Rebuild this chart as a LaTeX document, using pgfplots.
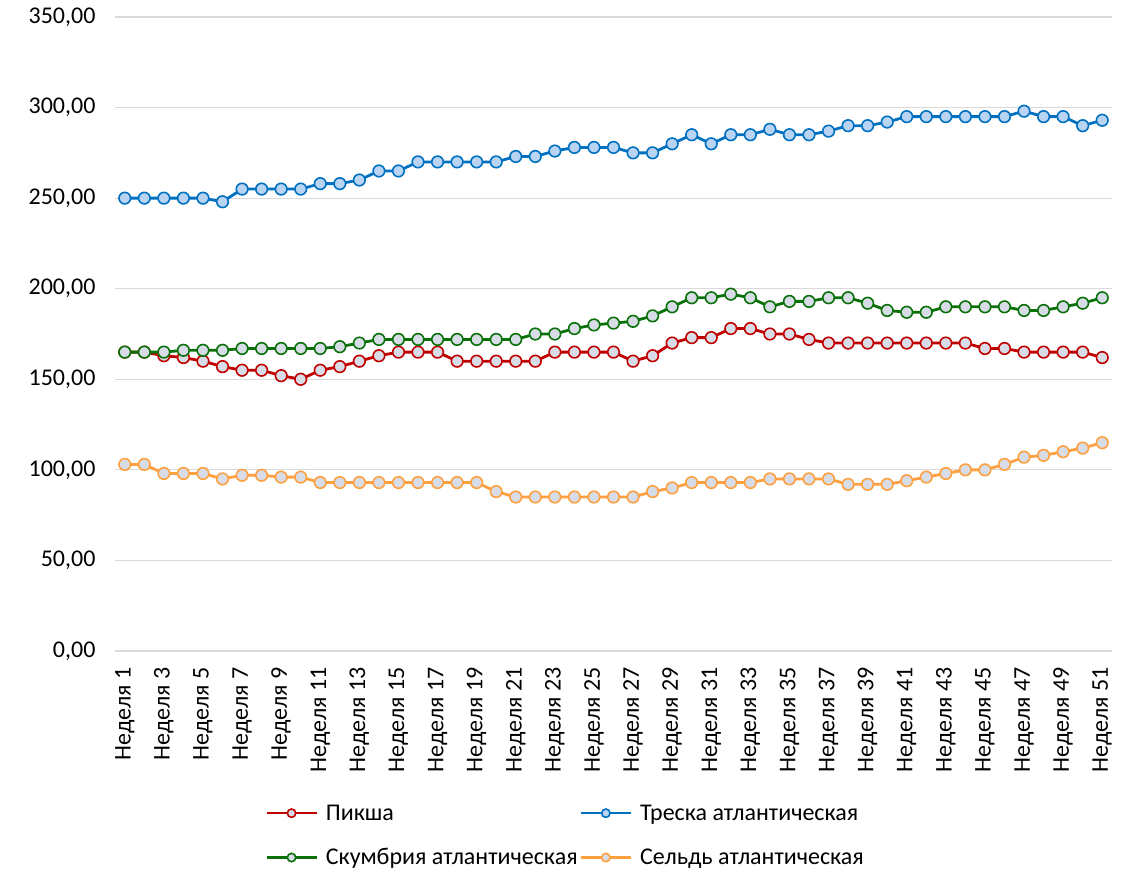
\documentclass[border=0pt]{standalone}
\usepackage{pgfplots}
\pgfplotsset{compat=1.18}
\usepackage{fontspec}
\setmainfont{Carlito}
\definecolor{cred}{HTML}{C00000}
\definecolor{cblue}{HTML}{0070C0}
\definecolor{cgreen}{HTML}{0A700A}
\definecolor{corange}{HTML}{FFA040}
\definecolor{mfill}{HTML}{D7DCE6}
\definecolor{mfillb}{HTML}{B9D3F3}
\definecolor{gridc}{HTML}{D9D9D9}
\newcommand{\lf}{\fontsize{24}{28}\selectfont}
\begin{document}
\begin{tikzpicture}
\path[use as bounding box] (0,0) rectangle (1135pt,870pt);
\begin{axis}[
  at={(115pt,219pt)}, anchor=south west,
  scale only axis, width=997pt, height=634pt,
  xmin=0.5, xmax=51.5, ymin=0, ymax=350,
  ytick={0,50,...,350},
  xtick={1,3,...,51},
  xticklabels={Неделя 1,Неделя 3,Неделя 5,Неделя 7,Неделя 9,Неделя 11,Неделя 13,Неделя 15,Неделя 17,Неделя 19,Неделя 21,Неделя 23,Неделя 25,Неделя 27,Неделя 29,Неделя 31,Неделя 33,Неделя 35,Неделя 37,Неделя 39,Неделя 41,Неделя 43,Неделя 45,Неделя 47,Неделя 49,Неделя 51},
  xticklabel style={rotate=90, anchor=east, font=\lf, xshift=-13pt},
  yticklabel style={font=\lf, xshift=-16pt,
    /pgf/number format/.cd, fixed, fixed zerofill, precision=2, use comma, 1000 sep={}, assume math mode=true},
  axis line style={draw=none},
  major tick style={draw=none},
  ymajorgrids, grid style={color=gridc, line width=1.2pt},
  clip=false,
  every axis plot/.append style={line width=2.8pt, mark=*, mark size=5.8pt},
  legend style={draw=none, fill=none, font=\lf, inner sep=0pt,
    at={(0.1505,-0.239)}, anchor=north west,
    legend columns=2, row sep=23pt,
    /tikz/every odd column/.append style={column sep=6pt}},
  legend cell align=left,
  legend image code/.code={\draw[#1, mark size=4.2pt, mark repeat=2, mark phase=2, line width=2.6pt] plot coordinates {(0pt,0pt) (25pt,0pt) (50pt,0pt)};},
]
\addplot[color=cred, mark options={fill=mfill, draw=cred, line width=1.6pt}] coordinates {
(1,165)(2,165)(3,163)(4,162)(5,160)(6,157)(7,155)(8,155)(9,152)(10,150)
(11,155)(12,157)(13,160)(14,163)(15,165)(16,165)(17,165)(18,160)(19,160)(20,160)
(21,160)(22,160)(23,165)(24,165)(25,165)(26,165)(27,160)(28,163)(29,170)(30,173)
(31,173)(32,178)(33,178)(34,175)(35,175)(36,172)(37,170)(38,170)(39,170)(40,170)
(41,170)(42,170)(43,170)(44,170)(45,167)(46,167)(47,165)(48,165)(49,165)(50,165)(51,162)};
\addlegendentry{Пикша}
\addplot[color=cblue, mark options={fill=mfillb, draw=cblue, line width=1.6pt}] coordinates {
(1,250)(2,250)(3,250)(4,250)(5,250)(6,248)(7,255)(8,255)(9,255)(10,255)
(11,258)(12,258)(13,260)(14,265)(15,265)(16,270)(17,270)(18,270)(19,270)(20,270)
(21,273)(22,273)(23,276)(24,278)(25,278)(26,278)(27,275)(28,275)(29,280)(30,285)
(31,280)(32,285)(33,285)(34,288)(35,285)(36,285)(37,287)(38,290)(39,290)(40,292)
(41,295)(42,295)(43,295)(44,295)(45,295)(46,295)(47,298)(48,295)(49,295)(50,290)(51,293)};
\addlegendentry{Треска атлантическая}
\addplot[color=cgreen, mark options={fill=mfill, draw=cgreen, line width=1.6pt}] coordinates {
(1,165)(2,165)(3,165)(4,166)(5,166)(6,166)(7,167)(8,167)(9,167)(10,167)
(11,167)(12,168)(13,170)(14,172)(15,172)(16,172)(17,172)(18,172)(19,172)(20,172)
(21,172)(22,175)(23,175)(24,178)(25,180)(26,181)(27,182)(28,185)(29,190)(30,195)
(31,195)(32,197)(33,195)(34,190)(35,193)(36,193)(37,195)(38,195)(39,192)(40,188)
(41,187)(42,187)(43,190)(44,190)(45,190)(46,190)(47,188)(48,188)(49,190)(50,192)(51,195)};
\addlegendentry{Скумбрия атлантическая}
\addplot[color=corange, mark options={fill=mfill, draw=corange, line width=1.6pt}] coordinates {
(1,103)(2,103)(3,98)(4,98)(5,98)(6,95)(7,97)(8,97)(9,96)(10,96)
(11,93)(12,93)(13,93)(14,93)(15,93)(16,93)(17,93)(18,93)(19,93)(20,88)
(21,85)(22,85)(23,85)(24,85)(25,85)(26,85)(27,85)(28,88)(29,90)(30,93)
(31,93)(32,93)(33,93)(34,95)(35,95)(36,95)(37,95)(38,92)(39,92)(40,92)
(41,94)(42,96)(43,98)(44,100)(45,100)(46,103)(47,107)(48,108)(49,110)(50,112)(51,115)};
\addlegendentry{Сельдь атлантическая}
\end{axis}
\end{tikzpicture}
\end{document}
